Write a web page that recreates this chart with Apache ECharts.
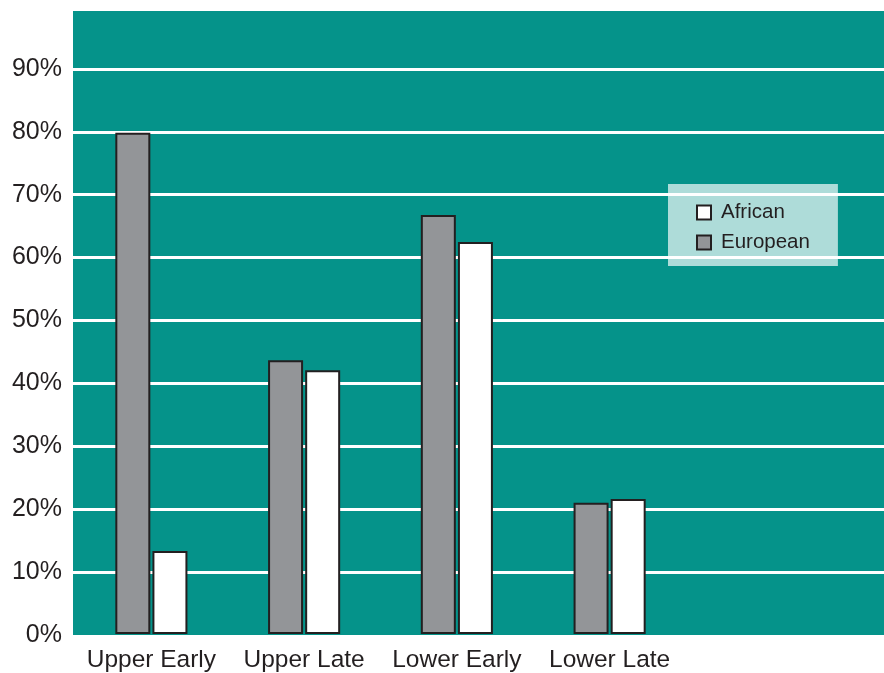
<!DOCTYPE html>
<html>
<head>
<meta charset="utf-8">
<script src="https://cdn.jsdelivr.net/npm/echarts@6/dist/echarts.min.js"></script>
<style>
  html, body { margin: 0; padding: 0; background: #fff; }
  #chart { width: 884px; height: 673px; }
</style>
</head>
<body>
<div id="chart"></div>
<script>
// data
const categories = ['Upper Early', 'Upper Late', 'Lower Early', 'Lower Late']
const european = [79.8, 43.6, 66.7, 20.9]
const african = [13.2, 42.0, 62.4, 21.5]
const yTicks = [0, 10, 20, 30, 40, 50, 60, 70, 80, 90]

const chart = echarts.init(document.getElementById('chart'))

const textColor = '#231f20'
const font = 'Liberation Sans, Arial, sans-serif'

const option = {
  animation: false,
  legend: {
    data: ['African', 'European'],
    orient: 'vertical',
    left: 668,
    top: 184,
    padding: [18, 28, 13, 28],
    icon: 'rect',
    itemWidth: 14,
    itemHeight: 14,
    itemGap: 9,
    backgroundColor: 'rgba(255,255,255,0.68)',
    textStyle: { fontSize: 20.5, lineHeight: 20, color: textColor, fontFamily: font, padding: [0, 0, 0, 5] }
  },
  grid: [
    // background grid: teal plot with white rules across full width
    { left: 73, right: 0, top: 11, bottom: 38, show: true, backgroundColor: '#05938a', borderWidth: 0 },
    // bar grid
    { left: 75, width: 611, top: 11, bottom: 38 }
  ],
  xAxis: [
    { gridIndex: 0, type: 'value', show: false },
    {
      gridIndex: 1,
      type: 'category',
      data: categories,
      axisLine: { show: false },
      axisTick: { show: false },
      axisLabel: { interval: 0, hideOverlap: false, fontSize: 24.5, color: textColor, fontFamily: font, margin: 14 }
    }
  ],
  yAxis: [
    {
      gridIndex: 0,
      type: 'value',
      min: 0,
      max: 99.2,
      interval: 10,
      axisLine: { show: false },
      axisTick: { show: false },
      axisLabel: {
        fontSize: 25,
        color: textColor,
        fontFamily: font,
        margin: 11,
        formatter: v => yTicks.includes(Math.round(v * 10) / 10) ? v + '%' : ''
      },
      splitLine: {
        show: true,
        showMinLine: false,
        showMaxLine: false,
        lineStyle: { color: '#ffffff', width: 3 }
      }
    },
    { gridIndex: 1, type: 'value', min: 0, max: 99.2, show: false, splitLine: { show: false } }
  ],
  series: [
    {
      name: 'European',
      type: 'bar',
      xAxisIndex: 1,
      yAxisIndex: 1,
      barWidth: 35,
      barGap: '6%',
      itemStyle: { color: '#939598', borderColor: textColor, borderWidth: 2 },
      data: european
    },
    {
      name: 'African',
      type: 'bar',
      xAxisIndex: 1,
      yAxisIndex: 1,
      barWidth: 35,
      barGap: '6%',
      itemStyle: { color: '#ffffff', borderColor: textColor, borderWidth: 2 },
      data: african
    }
  ]
}

chart.setOption(option)
</script>
</body>
</html>
